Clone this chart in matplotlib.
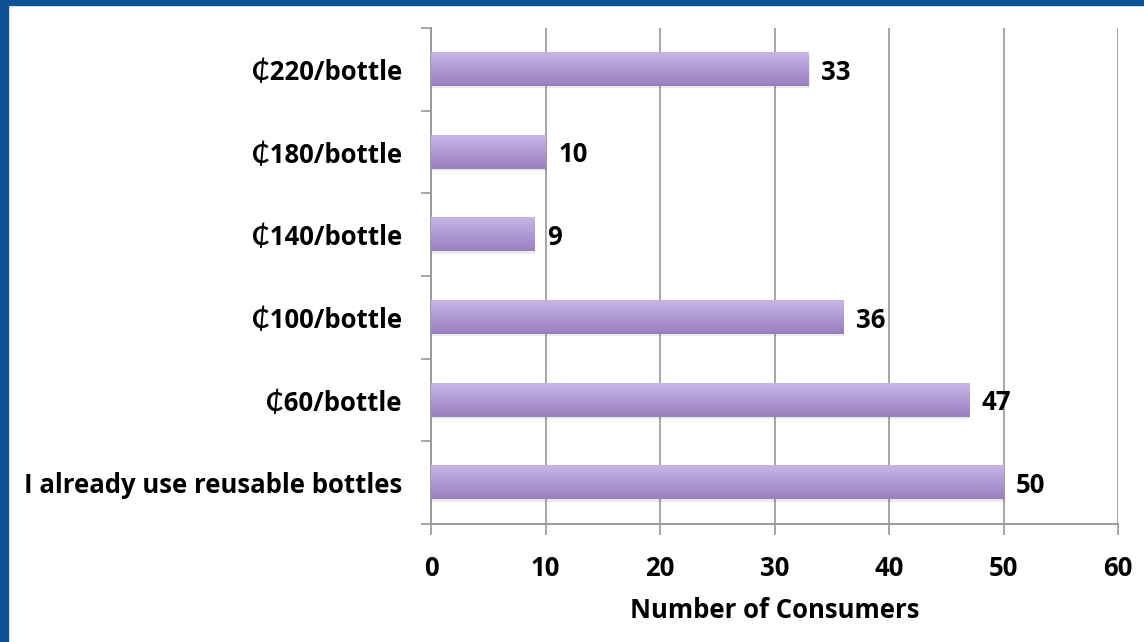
import numpy as np
import matplotlib
matplotlib.use("Agg")
import matplotlib.pyplot as plt
from matplotlib.colors import LinearSegmentedColormap
from matplotlib.patches import Rectangle

plt.rcParams['font.family'] = ['Open Sans', 'Lato', 'DejaVu Sans']
plt.rcParams['font.weight'] = 'bold'

# bottom to top
categories = ["I already use reusable bottles", "\u20b560/bottle", "\u20b5100/bottle",
              "\u20b5140/bottle", "\u20b5180/bottle", "\u20b5220/bottle"]
consumers = [50, 47, 36, 9, 10, 33]
x_ticks = [0, 10, 20, 30, 40, 50, 60]

grad = LinearSegmentedColormap.from_list("lav", ["#9a7fbf", "#b09ad4", "#c8b5e6"])
FS = 18.5

fig = plt.figure(figsize=(11.44, 6.42), dpi=100)
fig.patch.set_facecolor("white")
# blue frame along top and left edge
fig.add_artist(Rectangle((0, 1 - 5 / 642), 1, 5 / 642, transform=fig.transFigure,
                         color="#0e5296", zorder=0))
fig.add_artist(Rectangle((0, 0), 8 / 1144, 1, transform=fig.transFigure,
                         color="#0e5296", zorder=0))

ax = fig.add_axes([431 / 1144, 1 - 524 / 642, (1118 - 431) / 1144, (524 - 28) / 642])
y = np.arange(len(categories))
bars = ax.barh(y, consumers, height=0.4, color="none", zorder=3)

ramp = np.linspace(0, 1, 64).reshape(-1, 1)
for b in bars:
    x0, y0 = b.get_x(), b.get_y()
    w, h = b.get_width(), b.get_height()
    # soft shadow under each bar
    ax.add_patch(Rectangle((x0, y0 - 0.03), w + 0.1, h, color="#000000", alpha=0.08,
                           lw=0, zorder=2))
    ax.imshow(ramp, cmap=grad, extent=(x0, x0 + w, y0, y0 + h), aspect="auto",
              origin="lower", zorder=3, interpolation="bicubic")
    ax.text(x0 + w + 1.1, y0 + h / 2, f"{int(w)}", va="center_baseline", ha="left",
            fontsize=FS, fontweight="bold", color="black", zorder=4)

ax.set_xlim(0, 60)
ax.set_ylim(-0.5, len(categories) - 0.5)
ax.set_xticks(x_ticks)
ax.set_yticks(y)
ax.set_yticklabels(categories, va="center_baseline")
ax.set_yticks(np.arange(-0.5, len(categories), 1), minor=True)
ax.tick_params(axis="y", which="major", length=0, pad=21, labelsize=FS)
ax.tick_params(axis="y", which="minor", length=7, width=1.2, color="#9a9a9a")
ax.tick_params(axis="x", length=8, width=1.2, color="#9a9a9a", pad=14, labelsize=FS)
for lbl in ax.get_xticklabels() + ax.get_yticklabels():
    lbl.set_fontweight("bold")

ax.grid(axis="x", color="#a6a6a6", linewidth=1.4, zorder=0)
ax.set_axisbelow(True)
for side in ["top", "right"]:
    ax.spines[side].set_visible(False)
for side in ["left", "bottom"]:
    ax.spines[side].set_color("#9a9a9a")
    ax.spines[side].set_linewidth(1.4)

ax.set_xlabel("Number of Consumers", fontsize=FS, fontweight="bold", labelpad=11)

fig.savefig("out.png", dpi=100, facecolor="white")
